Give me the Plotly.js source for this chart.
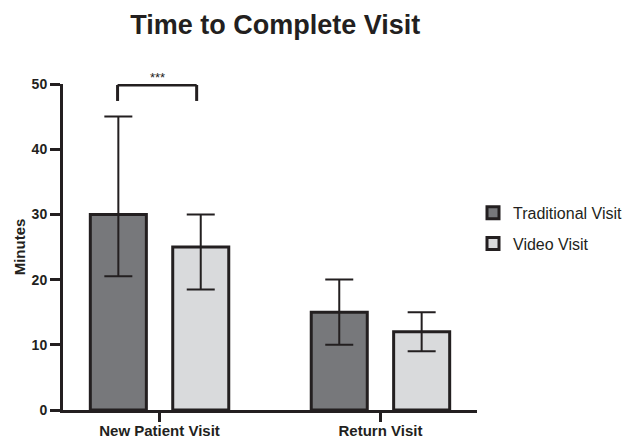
<!DOCTYPE html>
<html>
<head>
<meta charset="utf-8">
<script src="https://cdn.plot.ly/plotly-3.0.1.min.js"></script>
<style>
  html, body { margin: 0; padding: 0; background: #fff; }
  #chart { width: 630px; height: 438px; }
</style>
</head>
<body>
<div id="chart"></div>
<script>
// Visit types on the x axis
const categories = ['New Patient Visit', 'Return Visit'];

// Mean minutes per visit type, with the lower / upper ends of each error bar
const traditionalMean  = [30, 15];
const traditionalLower = [20.5, 10];
const traditionalUpper = [45, 20];

const videoMean  = [25, 12];
const videoLower = [18.5, 9];
const videoUpper = [30, 15];

const seriesNames = ['Traditional Visit', 'Video Visit'];
const yTicks = [0, 10, 20, 30, 40, 50];

const ink = '#231f20';
const FONT = 'Liberation Sans, Arial, Helvetica, sans-serif';

function makeTrace(name, mean, lower, upper, fill) {
  return {
    type: 'bar',
    name: name,
    x: categories,
    y: mean,
    legendgroup: name,
    marker: { color: fill, line: { color: ink, width: 3 } },
    error_y: {
      type: 'data',
      symmetric: false,
      array: upper.map((u, i) => u - mean[i]),
      arrayminus: lower.map((l, i) => mean[i] - l),
      color: ink,
      thickness: 2,
      width: 14
    },
    hoverinfo: 'x+y'
  };
}

const traces = [
  makeTrace(seriesNames[0], traditionalMean, traditionalLower, traditionalUpper, '#77787b'),
  makeTrace(seriesNames[1], videoMean, videoLower, videoUpper, '#d9dadc')
];

// Significance bracket between the two New Patient bars
const bracketLeft = -0.19, bracketRight = 0.168;
const bracketTop = 49.85, bracketFoot = 47.4;
const bracketLine = { color: ink, width: 3 };

const layout = {
  width: 630,
  height: 438,
  margin: { l: 63, r: 153, t: 84, b: 28, autoexpand: false },
  paper_bgcolor: '#ffffff',
  plot_bgcolor: '#ffffff',
  font: { family: FONT, color: ink },
  title: {
    text: '<b>Time to Complete Visit</b>',
    font: { family: FONT, size: 27, color: ink },
    x: 0.437, xanchor: 'center', xref: 'container',
    y: 0.943, yanchor: 'middle', yref: 'container'
  },
  barmode: 'group',
  bargap: 0.254,
  bargroupgap: 0.32,
  xaxis: {
    type: 'category',
    range: [-0.437, 1.437],
    showline: true, linecolor: ink, linewidth: 3,
    ticks: 'outside', ticklen: 9, tickwidth: 3, tickcolor: ink,
    ticklabelstandoff: -4,
    tickfont: { family: FONT, size: 15, color: ink, weight: 'bold' },
    showgrid: false, zeroline: false, automargin: false,
    fixedrange: true
  },
  yaxis: {
    range: [0, 50],
    tickvals: yTicks,
    showline: true, linecolor: ink, linewidth: 3,
    ticks: 'outside', ticklen: 10, tickwidth: 3, tickcolor: ink,
    tickfont: { family: FONT, size: 14, color: ink, weight: 'bold' },
    title: {
      text: '<b>Minutes</b>',
      font: { family: FONT, size: 15, color: ink },
      standoff: 3
    },
    showgrid: false, zeroline: false, automargin: false,
    fixedrange: true
  },
  legend: {
    x: (473 - 63) / 414, xref: 'paper',
    xanchor: 'left',
    y: 0.557, yanchor: 'middle',
    font: { family: FONT, size: 16, color: ink },
    traceorder: 'grouped',
    tracegroupgap: 7,
    bgcolor: 'rgba(0,0,0,0)'
  },
  shapes: [
    { type: 'line', xref: 'x', yref: 'y', x0: bracketLeft, x1: bracketRight, y0: bracketTop, y1: bracketTop, line: bracketLine },
    { type: 'line', xref: 'x', yref: 'y', x0: bracketLeft, x1: bracketLeft, y0: bracketTop, y1: bracketFoot, line: bracketLine },
    { type: 'line', xref: 'x', yref: 'y', x0: bracketRight, x1: bracketRight, y0: bracketTop, y1: bracketFoot, line: bracketLine }
  ],
  annotations: [
    {
      text: '***', xref: 'x', yref: 'y',
      x: (bracketLeft + bracketRight) / 2, y: bracketTop,
      xanchor: 'center', yanchor: 'bottom', yshift: -2,
      showarrow: false,
      font: { family: FONT, size: 13, color: ink }
    }
  ]
};

Plotly.newPlot('chart', traces, layout, { displayModeBar: false, staticPlot: true });
</script>
</body>
</html>
